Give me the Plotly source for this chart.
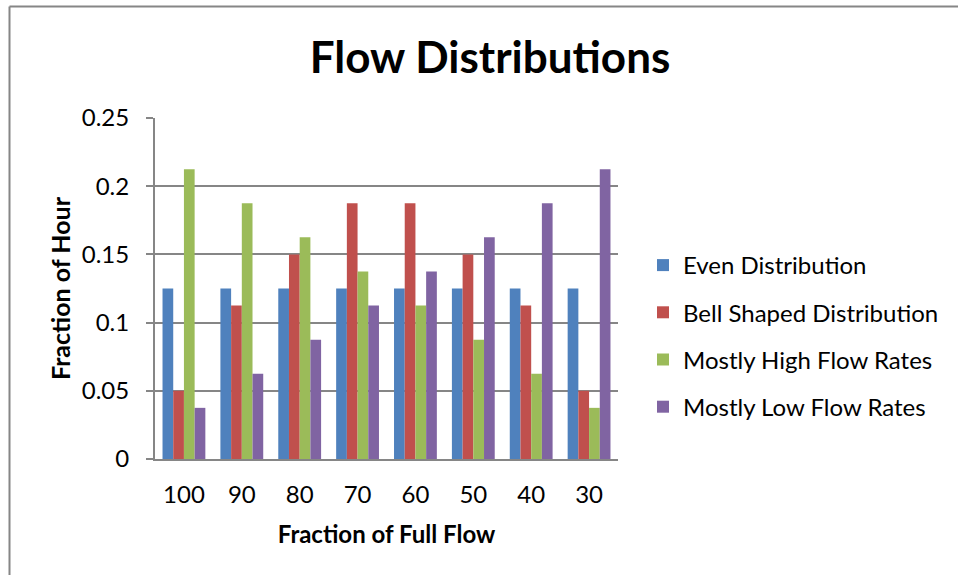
import plotly.graph_objects as go

categories = ["100", "90", "80", "70", "60", "50", "40", "30"]
even = [0.125, 0.125, 0.125, 0.125, 0.125, 0.125, 0.125, 0.125]
bell = [0.05, 0.1125, 0.15, 0.1875, 0.1875, 0.15, 0.1125, 0.05]
high = [0.2125, 0.1875, 0.1625, 0.1375, 0.1125, 0.0875, 0.0625, 0.0375]
low = [0.0375, 0.0625, 0.0875, 0.1125, 0.1375, 0.1625, 0.1875, 0.2125]
names = ["Even Distribution", "Bell Shaped Distribution", "Mostly High Flow Rates", "Mostly Low Flow Rates"]
colors = ["#4F81BD", "#C0504D", "#9BBB59", "#8064A2"]
y_ticks = [0, 0.05, 0.1, 0.15, 0.2, 0.25]

FONT = "Lato"

fig = go.Figure()
for i, (nm, vals, col) in enumerate(zip(names, [even, bell, high, low], colors)):
    fig.add_trace(go.Bar(x=categories, y=vals, name=nm, marker=dict(color=col, line=dict(width=0)),
                         legendgroup=f"g{i}"))

L, R, T, B = 155, 340, 118, 116
W, H = 958, 575
PW, PH = W - L - R, H - T - B

fig.update_layout(
    width=W, height=H,
    margin=dict(l=L, r=R, t=T, b=B),
    paper_bgcolor="white", plot_bgcolor="white",
    barmode="group", bargap=0.26, bargroupgap=0,
    font=dict(family=FONT, color="black", size=24),
    title=dict(text="<b>Flow Distributions</b>", x=490 / W, xanchor="center",
               y=1 - 58 / H, yanchor="middle", font=dict(size=44, family=FONT)),
    xaxis=dict(showline=True, linecolor="#868686", linewidth=2, ticks="", showgrid=False,
               tickfont=dict(size=24), ticklabelstandoff=13,
               title=dict(text="<b>Fraction of Full Flow</b>", font=dict(size=24), standoff=19)),
    yaxis=dict(range=[0, 0.25], tickvals=y_ticks, ticktext=["0", "0.05", "0.1", "0.15", "0.2", "0.25"],
               showline=True, linecolor="#868686", linewidth=2, ticks="outside", ticklen=7,
               tickcolor="#868686", tickwidth=2, showgrid=True, gridcolor="#868686", gridwidth=1.5,
               zeroline=False, tickfont=dict(size=24), ticklabelstandoff=12,
               title=dict(text="<b>Fraction of Hour</b>", font=dict(size=25), standoff=4)),
    legend=dict(x=(643 - L) / PW, xanchor="left", y=1 - (243 - T) / PH, yanchor="top",
                font=dict(size=24), tracegroupgap=13, traceorder="grouped",
                bgcolor="rgba(0,0,0,0)"),
    shapes=[
        dict(type="line", xref="paper", yref="paper",
             x0=(9.5 - L) / PW, x1=(9.5 - L) / PW,
             y0=1 + (T - 6.5) / PH, y1=-B / PH - 0.05,
             line=dict(color="#868686", width=2)),
        dict(type="line", xref="paper", yref="paper",
             x0=(9.5 - L) / PW, x1=(W + 10 - L) / PW,
             y0=1 + (T - 6.5) / PH, y1=1 + (T - 6.5) / PH,
             line=dict(color="#868686", width=2)),
    ],
)

fig.write_html("out.html")
